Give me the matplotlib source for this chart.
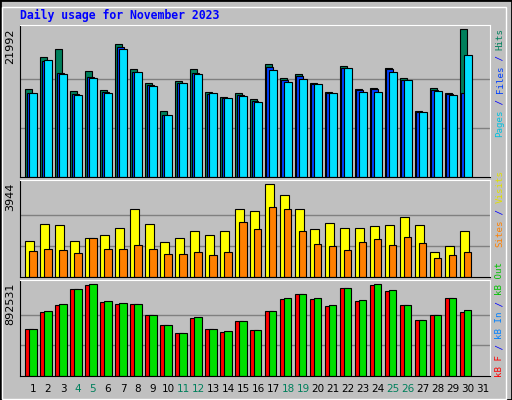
import numpy as np
import matplotlib
matplotlib.use("Agg")
import matplotlib.pyplot as plt
from matplotlib.patches import Rectangle

days = list(range(1, 32))
weekend = [4, 5, 11, 12, 18, 19, 25, 26]

hits = [13037, 17814, 19008, 12738, 15724, 12888, 19754, 16022, 13932, 9902,
        14231, 16022, 12589, 11843, 12440, 11544, 16769, 14679, 15276, 13932,
        12589, 16470, 13037, 13186, 16172, 14679, 9902, 13186, 12440, 21992]
files = [12540, 17300, 15427, 12290, 14828, 12589, 19406, 15575, 13634, 9305,
         13932, 15425, 12290, 11693, 12141, 11245, 16321, 14380, 14977, 13783,
         12440, 16172, 12888, 13037, 16022, 14380, 9752, 12888, 12290, 12440]
pages = [12440, 17366, 15276, 12141, 14679, 12440, 19008, 15575, 13485, 9305,
         13932, 15276, 12440, 11693, 11992, 11096, 15873, 14082, 14530, 13783,
         12440, 16172, 12589, 12589, 15575, 14380, 9752, 12738, 12141, 18113]
visits = [1552, 2236, 2193, 1552, 1680, 1808, 2107, 2876, 2236, 1509,
          1680, 1979, 1808, 1979, 2876, 2791, 3944, 3474, 2876, 2022,
          2278, 2065, 2107, 2150, 2193, 2534, 2193, 1082, 1338, 1937]
sites = [1125, 1210, 1168, 1040, 1680, 1210, 1210, 1381, 1210, 997,
         997, 1082, 954, 1082, 2321, 2022, 2962, 2876, 1979, 1424,
         1338, 1168, 1509, 1638, 1381, 1723, 1467, 826, 954, 1082]
kb_f = [457716, 621000, 686600, 843505, 882700, 719300, 699700, 696382, 595031, 496949,
        421753, 565600, 457716, 431600, 536182, 447907, 627725, 745400, 794464, 745400,
        680000, 853313, 725800, 882700, 827200, 686574, 545990, 595031, 755231, 617900]
kb_out = [457716, 627725, 696382, 843505, 892531, 725807, 706190, 696382, 595031, 496949,
          421753, 575414, 457716, 441370, 536182, 447907, 627725, 755231, 794464, 755231,
          686574, 853313, 735615, 892531, 833697, 686574, 545990, 595031, 755231, 637533]

BG = "#c0c0c0"
W, H = 512, 400
fig = plt.figure(figsize=(W / 100, H / 100), dpi=100, facecolor=BG)
fig.patches.append(Rectangle((0, 0), 1, 1, transform=fig.transFigure, fill=False,
                             edgecolor="black", lw=2))
fig.patches.append(Rectangle((1.5 / W, 1.5 / H), 1 - 8 / W, 1 - 8 / H, transform=fig.transFigure,
                             fill=False, edgecolor="white", lw=1))


def make_ax(top, bottom):
    ax = fig.add_axes([20 / W, 1 - bottom / H, 470 / W, (bottom - top) / H])
    ax.set_facecolor(BG)
    for s in ["top", "right"]:
        ax.spines[s].set_color("white")
    for s in ["left", "bottom"]:
        ax.spines[s].set_color("black")
    ax.set_xlim(0.13, 31.47)
    ax.set_xticks([])
    ax.set_yticks([])
    return ax


x = np.array(days[:30], dtype=float)
s = 1 / 15.0
edge = dict(edgecolor="black", linewidth=0.8, align="edge")

# top panel
ax1 = make_ax(25, 177)
mx = max(hits)
for g in (mx / 3, 2 * mx / 3):
    ax1.axhline(g, color="#808080", lw=1, zorder=0)
ax1.bar(x - 8 * s, hits, width=7 * s, color="#00805c", **edge)
ax1.bar(x - 6.5 * s, files, width=7 * s, color="#0040ff", **edge)
ax1.bar(x - 4 * s, pages, width=8 * s, color="#00e0ff", **edge)
ax1.set_ylim(0, mx * 151.5 / 147.2)

# middle panel
ax2 = make_ax(180, 277)
mx2 = max(visits)
for g in (mx2 / 3, 2 * mx2 / 3):
    ax2.axhline(g, color="#808080", lw=1, zorder=0)
ax2.bar(x - 7.7 * s, visits, width=8.5 * s, color="#ffff00", **edge)
ax2.bar(x - 4 * s, sites, width=7.5 * s, color="#ff8000", **edge)
ax2.set_ylim(0, mx2 * 290 / 277)

# bottom panel
ax3 = make_ax(280, 376)
mx3 = max(kb_out)
for g in (mx3 / 3, 2 * mx3 / 3):
    ax3.axhline(g, color="#808080", lw=1, zorder=0)
ax3.bar(x - 7.7 * s, kb_f, width=8 * s, color="#ff0000", **edge)
ax3.bar(x - 4 * s, kb_out, width=7.5 * s, color="#00e000", **edge)
ax3.set_ylim(0, mx3 * 285 / 273)

# title
fig.text(20 / W, 1 - 15 / H, "Daily usage for November 2023", color="#0000ff",
         family="DejaVu Sans Mono", fontweight="bold", fontsize=8.3, va="center")

# max labels
for yy, txt in [(28, str(max(hits))), (183, str(max(visits))), (283, str(max(kb_out)))]:
    fig.text(10 / W, 1 - yy / H, txt, rotation=90, fontsize=8, va="top", ha="center")

# day labels
for d in days:
    col = "#00805c" if d in weekend else "black"
    fig.text((33 + 15 * (d - 1)) / W, 1 - 389 / H, str(d), color=col, fontsize=7.5,
             ha="center", va="center")


# right-hand rotated legends, built bottom-to-top
def legend(parts, y_bottom):
    y = y_bottom
    step = 5.45
    for txt, col in parts:
        fig.text(500 / W, 1 - y / H, txt, rotation=90, color=col, fontsize=6.6,
                 family="DejaVu Sans Mono", ha="center", va="bottom")
        y -= step * len(txt)


legend([("Pages", "#00c0e0"), (" / ", "#0000ff"), ("Files", "#0040ff"),
        (" / ", "#0000ff"), ("Hits", "#00805c")], 137)
legend([("Sites", "#ff8000"), (" / ", "#0000ff"), ("Visits", "#e0e000")], 247)
legend([("kB F", "#ff0000"), (" / ", "#0000ff"), ("kB In", "#0080ff"),
        (" / ", "#0000ff"), ("kB Out", "#00c000")], 377)

fig.savefig("out.png", dpi=100, facecolor=BG)
